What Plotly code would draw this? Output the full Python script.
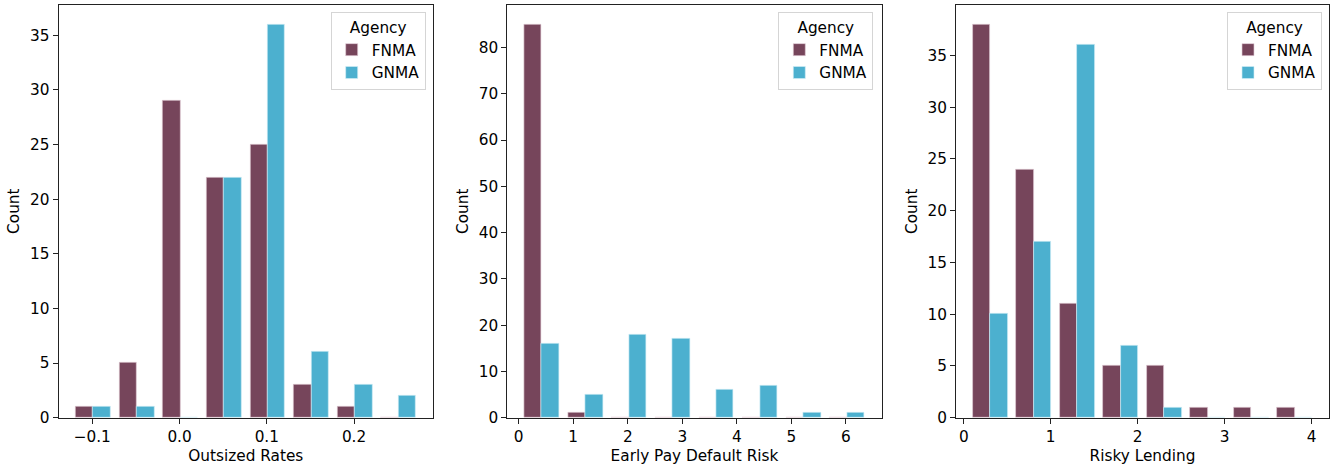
import plotly.graph_objects as go

# ---------------- data ----------------
agencies = ["FNMA", "GNMA"]

rates_bin_left = [-0.124, -0.074, -0.024, 0.026, 0.076, 0.126, 0.176, 0.226]
rates_bin_width = 0.05
rates_fnma = [1, 5, 29, 22, 25, 3, 1, 0]
rates_gnma = [1, 1, 0, 22, 36, 6, 3, 2]

epd_bin_left = [0.024, 0.824, 1.624, 2.424, 3.224, 4.024, 4.824, 5.624]
epd_bin_width = 0.8
epd_fnma = [85, 1, 0, 0, 0, 0, 0, 0]
epd_gnma = [16, 5, 18, 17, 6, 7, 1, 1]

risky_bin_left = [0.056, 0.556, 1.056, 1.556, 2.056, 2.556, 3.056, 3.556]
risky_bin_width = 0.5
risky_fnma = [38, 24, 11, 5, 5, 1, 1, 1]
risky_gnma = [10, 17, 36, 7, 1, 0, 0, 0]

x_titles = ["Outsized Rates", "Early Pay Default Risk", "Risky Lending"]

rates_xticks = [-0.1, 0.0, 0.1, 0.2]
rates_xticklabels = ["\u22120.1", "0.0", "0.1", "0.2"]
epd_xticks = [0, 1, 2, 3, 4, 5, 6]
epd_xticklabels = ["0", "1", "2", "3", "4", "5", "6"]
risky_xticks = [0, 1, 2, 3, 4]
risky_xticklabels = ["0", "1", "2", "3", "4"]

rates_yticks = [0, 5, 10, 15, 20, 25, 30, 35]
epd_yticks = [0, 10, 20, 30, 40, 50, 60, 70, 80]
risky_yticks = [0, 5, 10, 15, 20, 25, 30, 35]

# ---------------- style ----------------
COLORS = {"FNMA": "#76455B", "GNMA": "#4CB0CF"}
EDGE = {"FNMA": "rgba(225,205,214,0.8)", "GNMA": "rgba(210,238,246,0.8)"}
FONT = "DejaVu Sans"
FS = 15.3
W, H = 1330, 467

panels = [
    (rates_bin_left, rates_bin_width, rates_fnma, rates_gnma,
     rates_xticks, rates_xticklabels, rates_yticks),
    (epd_bin_left, epd_bin_width, epd_fnma, epd_gnma,
     epd_xticks, epd_xticklabels, epd_yticks),
    (risky_bin_left, risky_bin_width, risky_fnma, risky_gnma,
     risky_xticks, risky_xticklabels, risky_yticks),
]

x_domains_px = [(58.7, 433.0), (507.3, 881.7), (956.0, 1329.0)]
y_domain = [1 - 417.7 / H, 1 - 4.7 / H]
legend_right_px = [425.7, 873.3, 1322.0]
legend_top_px = 12.3

fig = go.Figure()
layout = dict(
    width=W, height=H,
    margin=dict(l=0, r=0, t=0, b=0, autoexpand=False),
    paper_bgcolor="white", plot_bgcolor="white",
    font=dict(family=FONT, size=FS, color="black"),
    bargap=0, barmode="overlay",
)

shrink = 0.8
for i, (left, bw, fn, gn, xt, xtl, yt) in enumerate(panels):
    idx = "" if i == 0 else str(i + 1)
    xa, ya = "x" + idx, "y" + idx
    leg = "legend" + idx
    bar_w = bw * shrink / 2
    for j, (name, vals) in enumerate(zip(agencies, [fn, gn])):
        centers = [l + bw * (1 - shrink) / 2 + bar_w * (j + 0.5) for l in left]
        fig.add_trace(go.Bar(
            x=centers, y=vals, width=bar_w, name=name,
            marker=dict(color=COLORS[name], line=dict(color=EDGE[name], width=0.8)),
            xaxis=xa, yaxis=ya, legend=leg, showlegend=True,
        ))
    lo = left[0] + bw * (1 - shrink) / 2
    hi = left[-1] + bw * (1 + shrink) / 2
    pad = 0.05 * (hi - lo)
    ymax = 1.05 * max(max(fn), max(gn))
    d0, d1 = x_domains_px[i]
    axis_common = dict(
        showline=True, linecolor="#222222", linewidth=1.1, mirror=True,
        ticks="outside", ticklen=5, tickwidth=1.1, tickcolor="#222222",
        showgrid=False, zeroline=False, automargin=False,
        tickfont=dict(family=FONT, size=FS, color="black"),
    )
    layout["xaxis" + idx] = dict(
        axis_common, domain=[d0 / W, d1 / W], anchor=ya,
        range=[lo - pad, hi + pad], tickmode="array", tickvals=xt, ticktext=xtl,
        title=dict(text=x_titles[i], standoff=5, font=dict(family=FONT, size=FS)),
    )
    layout["yaxis" + idx] = dict(
        axis_common, domain=y_domain, anchor=xa,
        range=[0, ymax], tickmode="array", tickvals=yt,
        ticktext=[str(v) for v in yt],
        title=dict(text="Count", standoff=6, font=dict(family=FONT, size=FS)),
    )
    layout[leg] = dict(
        x=legend_right_px[i] / W, y=1 - legend_top_px / H,
        xanchor="right", yanchor="top",
        bgcolor="rgba(255,255,255,0.8)", bordercolor="#d5d5d5", borderwidth=1,
        title=dict(text="Agency", side="top center", font=dict(family=FONT, size=FS)),
        font=dict(family=FONT, size=FS, color="black"),
        itemwidth=30, tracegroupgap=0,
    )

fig.update_layout(**layout)
fig.write_html(
    "out.html",
    config={"displayModeBar": False},
    post_script="document.body.style.margin='0';document.body.style.padding='0';"
                "window.dispatchEvent(new Event('resize'));",
)
